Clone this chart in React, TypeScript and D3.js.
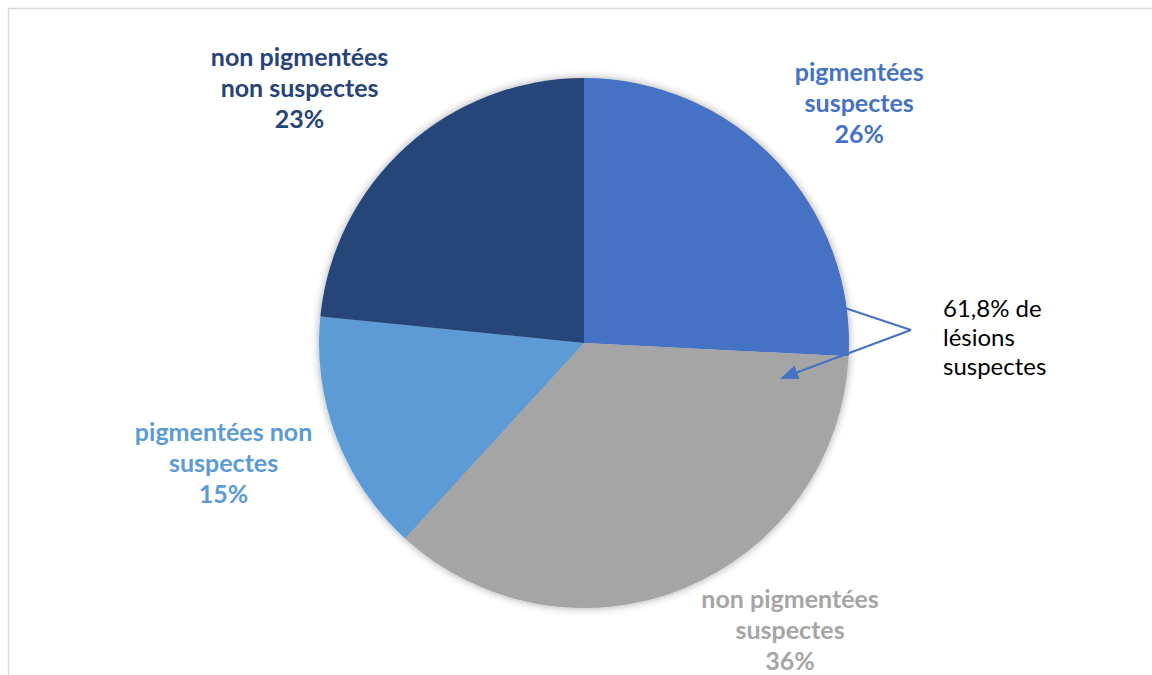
import React from "react";
import * as d3 from "d3";

const categories = [
  "pigmentées suspectes",
  "non pigmentées suspectes",
  "pigmentées non suspectes",
  "non pigmentées non suspectes",
];
const values = [25.8, 36.0, 14.8, 23.4];
const labelLines = [
  ["pigmentées", "suspectes"],
  ["non pigmentées", "suspectes"],
  ["pigmentées non", "suspectes"],
  ["non pigmentées", "non suspectes"],
];
const colors = ["#4472C4", "#A5A5A5", "#5B9BD5", "#264478"];
const calloutLines = ["61,8% de", "lésions", "suspectes"];

const W = 1152;
const H = 675;
const cx = 584;
const cy = 343;
const R = 265;
// label placement (layout): radius and angular shift in degrees from slice mid-angle
const labelRadius = [365, 353, 380, 382];
const labelShift = [2.5, -13.4, 2.4, -6];
const FONT = "Lato, 'Open Sans', sans-serif";

export default function App() {
  const pie = d3.pie<number>().sort(null).value((d) => d);
  const arcs = pie(values);
  const arcGen = d3.arc<d3.PieArcDatum<number>>().innerRadius(0).outerRadius(R);
  const total = d3.sum(values);

  return (
    <svg
      width={W}
      height={H}
      style={{ position: "absolute", left: 0, top: 0, background: "#fff" }}
    >
      <defs>
        <filter id="sh" x="-20%" y="-20%" width="140%" height="140%">
          <feGaussianBlur in="SourceAlpha" stdDeviation="4" />
          <feComponentTransfer>
            <feFuncA type="linear" slope="0.35" />
          </feComponentTransfer>
          <feMerge>
            <feMergeNode />
            <feMergeNode in="SourceGraphic" />
          </feMerge>
        </filter>
        <marker
          id="arr"
          viewBox="0 0 10 10"
          refX="9"
          refY="5"
          markerWidth="9"
          markerHeight="9"
          orient="auto-start-reverse"
        >
          <path d="M0,1 L10,5 L0,9 Z" fill="#4472C4" />
        </marker>
      </defs>
      <rect x={8.5} y={8.5} width={W + 20} height={H + 20} fill="#fff" stroke="#d9d9d9" strokeWidth={1.5} />
      <g transform={`translate(${cx},${cy})`} filter="url(#sh)">
        {arcs.map((a, i) => (
          <path key={categories[i]} d={arcGen(a) || ""} fill={colors[i]} />
        ))}
      </g>
      {arcs.map((a, i) => {
        const mid = (a.startAngle + a.endAngle) / 2 + (labelShift[i] * Math.PI) / 180;
        const lr = labelRadius[i];
        const x = cx + lr * Math.sin(mid);
        const y = cy - lr * Math.cos(mid);
        const lines = [...labelLines[i], `${Math.round((values[i] / total) * 100)}%`];
        const lh = 31;
        const y0 = y + 9 - lh;
        return (
          <text
            key={"l" + i}
            x={x}
            textAnchor="middle"
            fill={colors[i]}
            fontFamily={FONT}
            fontWeight="bold"
            fontSize={25}
          >
            {lines.map((t, j) => (
              <tspan key={j} x={x} y={y0 + j * lh}>
                {t}
              </tspan>
            ))}
          </text>
        );
      })}
      <polyline
        points={`${845},${308} ${911},${330}`}
        fill="none"
        stroke="#4472C4"
        strokeWidth={2}
      />
      <line
        x1={911}
        y1={330}
        x2={782}
        y2={378}
        stroke="#4472C4"
        strokeWidth={2}
        markerEnd="url(#arr)"
      />
      <text fontFamily={FONT} fontSize={24} fill="#000">
        {calloutLines.map((t, j) => (
          <tspan key={j} x={943} y={317 + j * 29}>
            {t}
          </tspan>
        ))}
      </text>
    </svg>
  );
}
